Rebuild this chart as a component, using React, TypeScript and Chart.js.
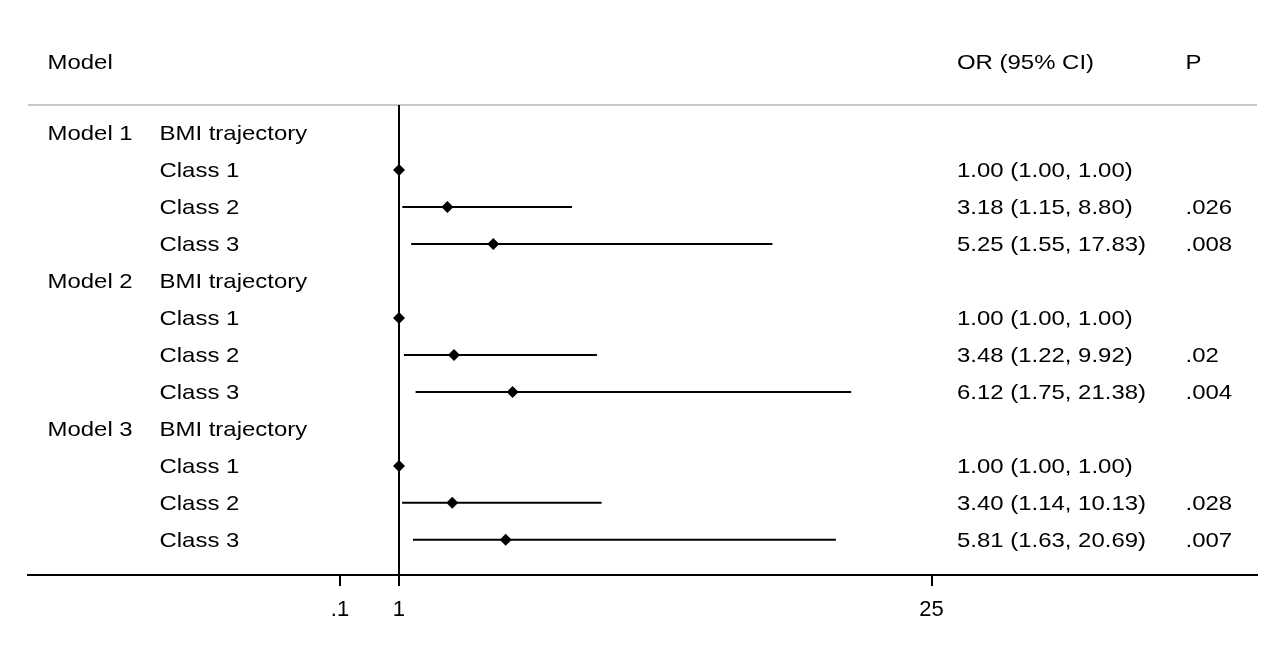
import React, { useEffect, useRef } from 'react';
import { Chart, registerables } from 'chart.js';

Chart.register(...registerables);

const headerModel = 'Model';
const headerOR = 'OR (95% CI)';
const headerP = 'P';
const models = ['Model 1', 'Model 2', 'Model 3'];
const groupLabel = 'BMI trajectory';
const classes = ['Class 1', 'Class 2', 'Class 3'];

const orValues = [1.0, 3.18, 5.25, 1.0, 3.48, 6.12, 1.0, 3.4, 5.81];
const lowerCI = [1.0, 1.15, 1.55, 1.0, 1.22, 1.75, 1.0, 1.14, 1.63];
const upperCI = [1.0, 8.8, 17.83, 1.0, 9.92, 21.38, 1.0, 10.13, 20.69];
const orText = [
  '1.00 (1.00, 1.00)', '3.18 (1.15, 8.80)', '5.25 (1.55, 17.83)',
  '1.00 (1.00, 1.00)', '3.48 (1.22, 9.92)', '6.12 (1.75, 21.38)',
  '1.00 (1.00, 1.00)', '3.40 (1.14, 10.13)', '5.81 (1.63, 20.69)',
];
const pText = ['', '.026', '.008', '', '.02', '.004', '', '.028', '.007'];

const tickValues = [-1.66, 1, 25];
const tickLabels = ['.1', '1', '25'];

const X_MIN = -15.72;
const X_MAX = 39.67;
const Y_MIN = -0.757;
const Y_MAX = 11.95;
const HEADER_ROW = -1.92;
const REF_VALUE = 1;

const FONT = "'Liberation Sans', Arial, sans-serif";

const rowOf = (i: number) => Math.floor(i / 3) * 4 + 1 + (i % 3);

export default function App() {
  const ref = useRef<HTMLCanvasElement | null>(null);

  useEffect(() => {
    document.body.style.margin = '0';
    const canvas = ref.current;
    if (!canvas) return;

    const ciDatasets = orValues.map((_, i) => ({
      type: 'line' as const,
      data: [
        { x: lowerCI[i], y: rowOf(i) },
        { x: upperCI[i], y: rowOf(i) },
      ],
      borderColor: '#000',
      borderWidth: 2,
      pointRadius: 0,
      fill: false,
    }));

    const textPlugin = {
      id: 'forestText',
      beforeDatasetsDraw(chart: any) {
        const { ctx, chartArea } = chart;
        ctx.save();
        ctx.strokeStyle = '#c8c8c8';
        ctx.lineWidth = 2;
        ctx.beginPath();
        ctx.moveTo(chartArea.left, chartArea.top);
        ctx.lineTo(chartArea.right, chartArea.top);
        ctx.stroke();
        ctx.restore();
      },
      afterDraw(chart: any) {
        const { ctx } = chart;
        const ys = chart.scales.y;
        const put = (t: string, x: number, y: number) => {
          ctx.save();
          ctx.translate(x, y + 7.5);
          ctx.scale(1.14, 1);
          ctx.fillText(t, 0, 0);
          ctx.restore();
        };
        ctx.save();
        ctx.fillStyle = '#000';
        ctx.font = `21px ${FONT}`;
        ctx.textBaseline = 'alphabetic';
        ctx.textAlign = 'left';
        const hy = ys.getPixelForValue(HEADER_ROW);
        put(headerModel, 47.5, hy);
        put(headerOR, 957, hy);
        put(headerP, 1185.5, hy);
        models.forEach((m, mi) => {
          const y = ys.getPixelForValue(mi * 4);
          put(m, 47.5, y);
          put(groupLabel, 159.5, y);
        });
        orValues.forEach((_, i) => {
          const y = ys.getPixelForValue(rowOf(i));
          put(classes[i % 3], 159.5, y);
          put(orText[i], 957, y);
          if (pText[i]) put(pText[i], 1185.5, y);
        });
        ctx.restore();
      },
    };

    const chart = new Chart(canvas, {
      type: 'scatter',
      data: {
        datasets: [
          {
            type: 'line' as const,
            data: [
              { x: REF_VALUE, y: Y_MIN },
              { x: REF_VALUE, y: Y_MAX },
            ],
            borderColor: '#000',
            borderWidth: 2,
            pointRadius: 0,
            fill: false,
          },
          ...ciDatasets,
          {
            type: 'scatter' as const,
            data: orValues.map((v, i) => ({ x: v, y: rowOf(i) })),
            pointStyle: 'rectRot',
            pointRadius: 6,
            backgroundColor: '#000',
            borderColor: '#000',
            borderWidth: 0,
          },
        ] as any,
      },
      options: {
        animation: false,
        responsive: false,
        events: [],
        layout: { padding: { top: 105, left: 28, right: 19, bottom: 0 } },
        plugins: { legend: { display: false }, tooltip: { enabled: false } },
        scales: {
          x: {
            type: 'linear',
            min: X_MIN,
            max: X_MAX,
            afterBuildTicks: (scale: any) => {
              scale.ticks = tickValues.map((v) => ({ value: v }));
            },
            afterFit: (scale: any) => {
              scale.height = 77;
            },
            ticks: {
              autoSkip: false,
              maxRotation: 0,
              color: '#000',
              font: { family: FONT, size: 22 },
              padding: 11,
              callback: (_v: any, i: number) => tickLabels[i],
            },
            grid: {
              display: true,
              drawOnChartArea: false,
              drawTicks: true,
              tickLength: 11,
              color: '#000',
              lineWidth: 2,
            },
            border: { display: true, color: '#000', width: 2 },
          },
          y: {
            type: 'linear',
            display: false,
            reverse: true,
            min: Y_MIN,
            max: Y_MAX,
          },
        },
      },
      plugins: [textPlugin],
    });

    return () => chart.destroy();
  }, []);

  return (
    <div style={{ position: 'absolute', left: 0, top: 0, width: 1276, height: 652, background: '#fff' }}>
      <canvas ref={ref} width={1276} height={652} />
    </div>
  );
}
